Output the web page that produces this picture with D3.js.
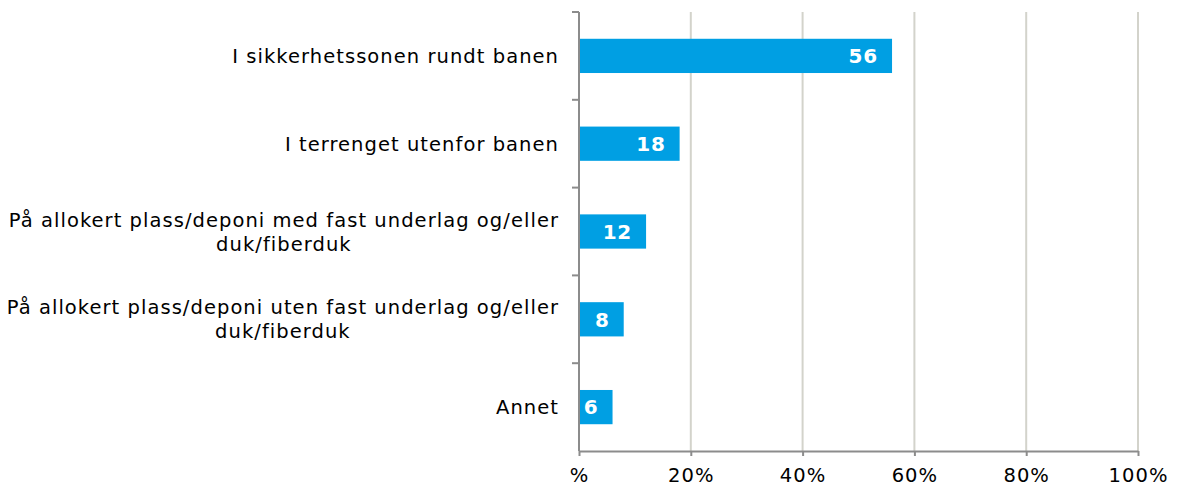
<!DOCTYPE html>
<html>
<head>
<meta charset="utf-8">
<script src="https://cdn.jsdelivr.net/npm/d3@7"></script>
<style>
  body { margin:0; background:#fff; }
  text { font-family: "DejaVu Sans", Verdana, sans-serif; }
</style>
</head>
<body>
<div id="chart"></div>
<script>
var categories = [
  ["I sikkerhetssonen rundt banen"],
  ["I terrenget utenfor banen"],
  ["På allokert plass/deponi med fast underlag og/eller", "duk/fiberduk"],
  ["På allokert plass/deponi uten fast underlag og/eller", "duk/fiberduk"],
  ["Annet"]
];
var values = [56, 18, 12, 8, 6];
var tickValues = [0, 20, 40, 60, 80, 100];
var tickLabels = ["%", "20%", "40%", "60%", "80%", "100%"];

var width = 1178, height = 491;
var margin = {left:579, right:40, top:12, bottom:40};
var fontSize = "19.5px", spacing = "1.05px";

var svg = d3.select("#chart").append("svg")
  .attr("width", width)
  .attr("height", height);

var x = d3.scaleLinear().domain([0,100]).range([margin.left, 1138]);
var y = d3.scaleBand().domain(d3.range(categories.length))
  .range([margin.top, 451]).paddingInner(0.61).paddingOuter(0.305);

// gridlines
svg.selectAll(".grid")
  .data(tickValues.slice(1))
  .enter().append("line")
  .attr("x1", function(d){ return x(d); })
  .attr("x2", function(d){ return x(d); })
  .attr("y1", margin.top)
  .attr("y2", 451)
  .style("stroke", "#d3d3cb")
  .style("stroke-width", 2);

// bars
svg.selectAll(".bar")
  .data(values)
  .enter().append("rect")
  .attr("x", x(0))
  .attr("y", function(d,i){ return y(i); })
  .attr("width", function(d){ return x(d) - x(0); })
  .attr("height", y.bandwidth())
  .attr("fill", "#009fe3");

// value labels
svg.selectAll(".val")
  .data(values)
  .enter().append("text")
  .attr("x", function(d){ return x(d) - 14; })
  .attr("y", function(d,i){ return y(i) + y.bandwidth()/2; })
  .attr("dy", "0.36em")
  .attr("text-anchor", "end")
  .style("font-size", "20px")
  .style("font-weight", "bold")
  .style("letter-spacing", "0.8px")
  .style("fill", "#ffffff")
  .text(function(d){ return d; });

// x axis
var xAxis = d3.axisBottom(x).tickValues(tickValues)
  .tickFormat(function(d,i){ return tickLabels[i]; })
  .tickSize(5).tickSizeOuter(0);
var gx = svg.append("g").attr("transform", "translate(0,451)").call(xAxis);
gx.select(".domain").style("stroke", "#8c8c8c").style("stroke-width", 2);
gx.selectAll(".tick line").style("stroke", "#8c8c8c").style("stroke-width", 2);
gx.selectAll(".tick text")
  .attr("y", 17)
  .style("font-family", "DejaVu Sans, Verdana, sans-serif")
  .style("font-size", fontSize)
  .style("letter-spacing", spacing)
  .style("fill", "#000");

// y axis line + ticks at band boundaries
var step = y.step();
var bounds = d3.range(categories.length + 1).map(function(i){ return margin.top + i * step; });
svg.append("line")
  .attr("x1", x(0)).attr("x2", x(0))
  .attr("y1", margin.top).attr("y2", 451)
  .style("stroke", "#8c8c8c").style("stroke-width", 2);
svg.selectAll(".ytick")
  .data(bounds.slice(0, categories.length))
  .enter().append("line")
  .attr("x1", x(0) - 7).attr("x2", x(0))
  .attr("y1", function(d){ return d; }).attr("y2", function(d){ return d; })
  .style("stroke", "#8c8c8c").style("stroke-width", 2);

// category labels
var labelRight = 559;
categories.forEach(function(lines, i){
  var g = svg.append("g");
  var cy = y(i) + y.bandwidth()/2;
  var lh = 24;
  var texts = lines.map(function(l, j){
    return g.append("text")
      .attr("y", cy + (j - (lines.length-1)/2) * lh)
      .attr("dy", "0.36em")
      .style("font-size", fontSize)
      .style("letter-spacing", spacing)
      .style("fill", "#000")
      .text(l);
  });
  var maxW = d3.max(texts, function(t){ return t.node().getBBox().width; });
  texts.forEach(function(t){
    t.attr("x", labelRight - maxW/2).attr("text-anchor", "middle");
  });
});
</script>
</body>
</html>
